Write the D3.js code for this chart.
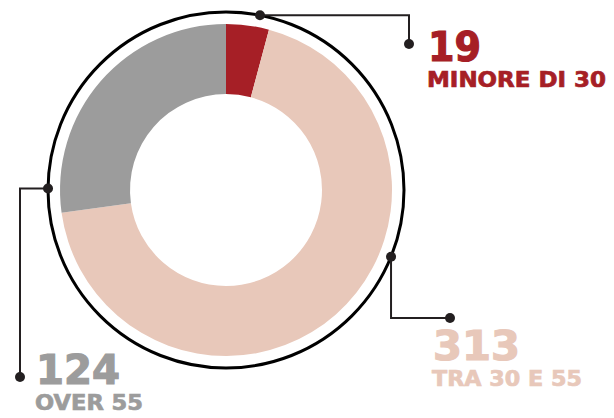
<!DOCTYPE html>
<html>
<head>
<meta charset="utf-8">
<script src="https://cdn.jsdelivr.net/npm/d3@7"></script>
<style>
  html, body { margin: 0; padding: 0; background: #fff; }
  svg { display: block; }
  text { font-family: "DejaVu Sans", sans-serif; font-weight: bold; }
</style>
</head>
<body>
<svg id="chart"></svg>
<script>
const categories = ["MINORE DI 30", "TRA 30 E 55", "OVER 55"]
const counts = [19, 313, 124]
const colors = ["#a61f26", "#e8c8ba", "#9c9c9c"]

const width = 614
const height = 418
const cx = 226, cy = 190
const innerR = 96, outerR = 166, ringR = 178

// where each callout leaves the ring (degrees, clockwise from top), its elbow, label spot and widths
const callouts = [
  { angle: 11, elbow: "h", ex: 409, ey: 44, lx: 428, ly: 61, nw: 53, tw: 179 },
  { angle: 112, elbow: "v", ex: 450, ey: 318, lx: 433, ly: 360, nw: 87, tw: 150 },
  { angle: 270.5, elbow: "h", ex: 20, ey: 377, lx: 36, ly: 384, nw: 84, tw: 108 }
]

const data = categories.map((c, i) => ({ name: c, value: counts[i], color: colors[i] }))

const svg = d3.select("#chart")
    .attr("width", width)
    .attr("height", height)
    .attr("viewBox", [0, 0, width, height])

const pie = d3.pie().sort(null).value(d => d.value)
const arc = d3.arc().innerRadius(innerR).outerRadius(outerR)

const g = svg.append("g").attr("transform", `translate(${cx},${cy})`)

g.selectAll("path")
  .data(pie(data))
  .join("path")
    .attr("fill", d => d.data.color)
    .attr("d", arc)

g.append("circle")
    .attr("r", ringR)
    .attr("fill", "none")
    .attr("stroke", "#000")
    .attr("stroke-width", 3)

const lines = svg.append("g")
    .attr("fill", "none")
    .attr("stroke", "#231f20")
    .attr("stroke-width", 2)

const dots = svg.append("g").attr("fill", "#231f20")

data.forEach((d, i) => {
  const c = callouts[i]
  const [px, py] = d3.pointRadial(c.angle * Math.PI / 180, ringR)
  const sx = cx + px, sy = cy + py
  const p = d3.path()
  p.moveTo(sx, sy)
  if (c.elbow === "h") { p.lineTo(c.ex, sy) } else { p.lineTo(sx, c.ey) }
  p.lineTo(c.ex, c.ey)
  lines.append("path").attr("d", p.toString())
  dots.append("circle").attr("cx", sx).attr("cy", sy).attr("r", 5)
  dots.append("circle").attr("cx", c.ex).attr("cy", c.ey).attr("r", 5)

  svg.append("text")
      .attr("x", c.lx)
      .attr("y", c.ly)
      .attr("fill", d.color)
      .attr("stroke", d.color)
      .attr("stroke-width", 1.2)
      .attr("font-size", 40)
      .attr("textLength", c.nw)
      .attr("lengthAdjust", "spacingAndGlyphs")
      .text(d.value)
  svg.append("text")
      .attr("x", c.lx - 1)
      .attr("y", c.ly + 26)
      .attr("fill", d.color)
      .attr("stroke", d.color)
      .attr("stroke-width", 0.7)
      .attr("font-size", 20.5)
      .attr("textLength", c.tw)
      .attr("lengthAdjust", "spacingAndGlyphs")
      .text(d.name)
})
</script>
</body>
</html>
